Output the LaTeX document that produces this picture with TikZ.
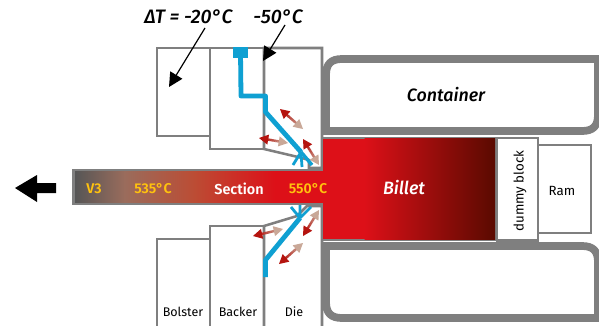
\documentclass[tikz,border=0pt]{standalone}
\usepackage{fontspec}
\setmainfont{Fira Sans}[BoldFont={Fira Sans SemiBold},BoldItalicFont={Fira Sans Medium Italic}]
\usetikzlibrary{arrows.meta,calc}
\definecolor{edge}{HTML}{7F7F7F}
\definecolor{flow}{HTML}{0FA0D2}
\definecolor{hot}{HTML}{DD1018}
\definecolor{gold}{HTML}{FFC20E}
\definecolor{dk}{HTML}{B5140F}
\definecolor{tn}{HTML}{C9A898}
\definecolor{seca}{HTML}{565656}
\definecolor{secb}{HTML}{9A6C5C}
\definecolor{secc}{HTML}{BC4C34}
\definecolor{bildark}{HTML}{5A0A00}
\tikzset{
  toolbox/.style={draw=edge,line width=1.9pt,fill=white,line join=miter},
  contbox/.style={draw=edge,line width=5.8pt,fill=white,line join=miter},
  flowline/.style={draw=flow,line width=3.6pt,line join=round},
  flowfan/.style={draw=flow,line width=2.1pt},
  callout/.style={draw=black,line width=0.9pt,-{Triangle[length=10.5pt,width=10.5pt]}},
  hdrtext/.style={font=\fontsize{14.6}{16}\selectfont\itshape\bfseries,text=black},
  temp/.style={font=\fontsize{10.6}{12}\selectfont\bfseries,text=gold},
  lab/.style={font=\fontsize{9.4}{11}\selectfont,text=black},
  sect/.style={font=\fontsize{10.8}{12}\selectfont\bfseries,text=white},
  ital/.style={font=\fontsize{13.4}{15}\selectfont\itshape\bfseries},
}
\newcommand{\gradarrow}[4]{%
  \coordinate (ga) at (#1,#2); \coordinate (gb) at (#3,#4);
  \foreach \i in {0,...,9}{
    \pgfmathsetmacro{\ta}{0.16+0.068*\i}
    \pgfmathsetmacro{\tb}{0.16+0.068*(\i+1)+0.01}
    \pgfmathsetmacro{\pc}{100-10*\i}
    \colorlet{gc}{dk!\pc!tn}
    \draw[gc,line width=1.8pt] ($(ga)!\ta!(gb)$) -- ($(ga)!\tb!(gb)$);
  }
  \fill[dk] (ga) -- ($(ga)!7pt!(gb)!3.8pt!90:(gb)$) -- ($(ga)!7pt!(gb)!3.8pt!-90:(gb)$) -- cycle;
  \fill[tn] (gb) -- ($(gb)!7pt!(ga)!3.8pt!90:(ga)$) -- ($(gb)!7pt!(ga)!3.8pt!-90:(ga)$) -- cycle;
}
\begin{document}
\begin{tikzpicture}[x=0.75pt,y=-0.75pt]
\clip (0,0) rectangle (599,325);
\fill[white] (0,0) rectangle (599,325);
% containers
\draw[contbox] (326,131) -- (326,75) .. controls (326,64) and (331,59) .. (342,59) -- (598,59) -- (598,115) .. controls (598,126) and (593,131) .. (582,131) -- cycle;
\draw[contbox] (326,246) -- (326,302) .. controls (326,313) and (331,318) .. (342,318) -- (598,318) -- (598,262) .. controls (598,251) and (593,246) .. (582,246) -- cycle;
% tool boxes
\draw[toolbox] (157,48) rectangle (210,136);
\draw[toolbox] (210,48) rectangle (264,149);
\draw[toolbox] (264,48) -- (322,48) -- (322,168) -- (309,168) -- (309,160) -- (298,157) -- (264,149) -- cycle;
\draw[toolbox] (157,345) -- (157,239) -- (210,239) -- (210,345);
\draw[toolbox] (210,345) -- (210,226) -- (264,226) -- (264,345);
\draw[toolbox] (264,345) -- (264,226) -- (297,216) -- (307,206) -- (322,206) -- (322,345);
% section + billet
\fill[edge] (72,168.5) rectangle (323,205);
\shade[left color=seca,right color=secb] (75,171) rectangle (125,202.5);
\shade[left color=secb,right color=secc] (124.5,171) rectangle (195,202.5);
\shade[left color=secc,right color=hot] (194.5,171) rectangle (275,202.5);
\fill[hot] (274.5,171) rectangle (326,202.5);
\fill[edge] (323,137) rectangle (497,240.5);
\fill[hot] (323,138.5) rectangle (365,239);
\shade[left color=hot,right color=bildark] (364.5,138.5) rectangle (495,239);
\fill[hot] (321,171) rectangle (326,202.5);
% dummy + ram
\draw[toolbox] (538,145) rectangle (591,233);
\draw[toolbox] (497,138) rectangle (538,240.5);
% flow lines
\node[fill=flow,minimum width=11pt,minimum height=8pt,inner sep=0pt] (port) at (240.5,52.5) {};
\draw[flowline] (port.center) -- (241,96) -- (265.5,96) -- (265.5,112) -- (301,152);
\draw[flow,line width=2.6pt] (301,152) -- (312,165);
\draw[flowfan] (301,152) -- (293,165) (301,152) -- (302,167);
\draw[flowline] (265.5,277) -- (265.5,260) -- (300,218);
\draw[flowfan] (300,218) -- (291,207) (300,218) -- (300,205) (300,218) -- (311,207);
% heat arrows
\gradarrow{280}{109}{303}{129}
\gradarrow{259}{138}{288}{143}
\gradarrow{303}{139}{319}{165}
\gradarrow{253}{236}{283}{229}
\gradarrow{303}{236}{319}{210}
\gradarrow{279}{264}{303}{243}
% big arrow
\fill[black] (15,188) -- (37,175) -- (37,183) -- (56,183) -- (56,193) -- (37,193) -- (37,202) -- cycle;
% callouts
\node[hdrtext] (dt) at (188.5,17) {ΔT = -20°C};
\node[hdrtext] (fifty) at (278,17) {-50°C};
\coordinate (dtend) at (169,87);
\coordinate (fend) at (263,61);
\draw[callout] (205,28) -- (dtend);
\draw[callout] (285,25) -- (fend);
% labels
\node[temp] (v3) at (94,188.5) {V3};
\node[temp] (t535) at (153,188.5) {535°C};
\node[sect] (sec) at (239,189) {Section};
\node[temp] (t550) at (308,189) {550°C};
\node[ital,text=white] (bil) at (404,188) {Billet};
\node[ital,text=black] (cont) at (446,95) {Container};
\node[lab,rotate=90,font=\fontsize{10}{12}\selectfont] (dum) at (520,191) {dummy block};
\node[lab,font=\fontsize{10}{12}\selectfont] (ram) at (562,191) {Ram};
\node[lab] (bol) at (183,312) {Bolster};
\node[lab] (bac) at (238,312) {Backer};
\node[lab] (die) at (294,312) {Die};
\end{tikzpicture}
\end{document}
